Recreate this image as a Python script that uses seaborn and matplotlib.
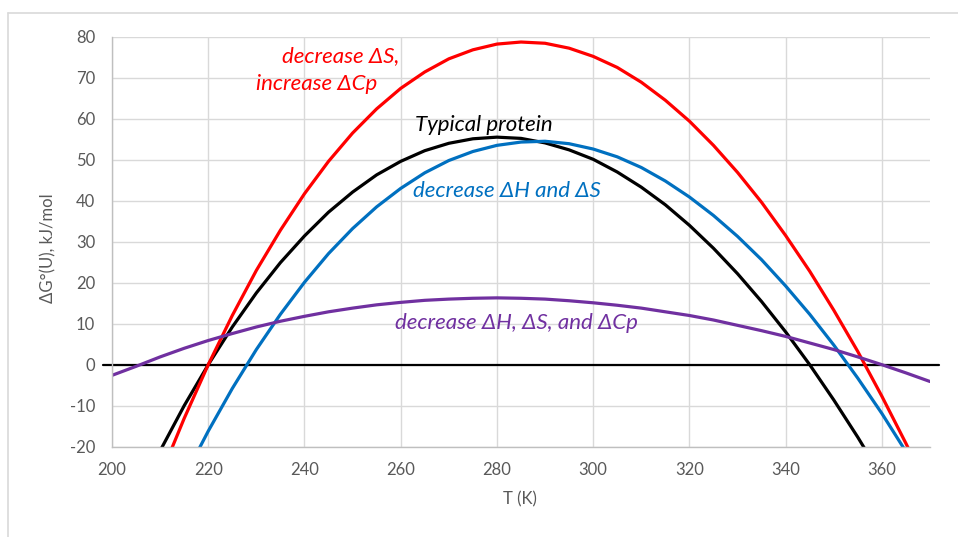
import matplotlib
matplotlib.use("Agg")
import matplotlib.pyplot as plt
from matplotlib.lines import Line2D
import seaborn as sns
import pandas as pd

# ---- data ----
temps = [200, 205, 210, 215, 220, 225, 230, 235, 240, 245, 250, 255, 260, 265,
         270, 275, 280, 285, 290, 295, 300, 305, 310, 315, 320, 325, 330, 335,
         340, 345, 350, 355, 360, 365, 370]

typical = [None, -33.0, -21.0, -10.0, 0.0, 9.2, 17.5, 24.9, 31.4, 37.2, 42.1, 46.3,
           49.6, 52.2, 54.0, 55.1, 55.5, 55.2, 54.1, 52.4, 50.1, 47.0, 43.3, 39.0,
           34.0, 28.4, 22.2, 15.4, 8.0, 0.0, -8.6, -17.7, -27.4, None, None]

dec_S_inc_Cp = [None, -42.7, -27.3, -13.1, 0.0, 12.0, 23.0, 32.8, 41.7, 49.6, 56.5,
                62.4, 67.4, 71.4, 74.6, 76.8, 78.2, 78.7, 78.4, 77.2, 75.2, 72.5,
                68.9, 64.5, 59.4, 53.5, 46.9, 39.6, 31.5, 22.8, 13.3, 3.2, -7.7,
                -19.2, -31.3]

dec_H_S = [None, None, None, -27.5, -16.2, -5.8, 3.7, 12.3, 20.1, 27.1, 33.2, 38.5,
           43.0, 46.8, 49.8, 52.0, 53.5, 54.3, 54.5, 53.9, 52.6, 50.7, 48.1, 44.8,
           40.9, 36.4, 31.3, 25.6, 19.2, 12.3, 4.8, -3.3, -11.9, -21.2, -30.9]

dec_H_S_Cp = [-2.6, -0.4, 1.9, 4.0, 5.9, 7.6, 9.2, 10.6, 11.8, 12.9, 13.8, 14.6,
              15.2, 15.7, 16.0, 16.2, 16.3, 16.2, 16.0, 15.6, 15.1, 14.5, 13.8,
              12.9, 12.0, 10.9, 9.6, 8.3, 6.9, 5.3, 3.7, 1.9, 0.0, -2.0, -4.1]

series_names = ["Typical protein", "decrease \u0394S, increase \u0394Cp",
                "decrease \u0394H and \u0394S", "decrease \u0394H, \u0394S, and \u0394Cp"]
series_values = [typical, dec_S_inc_Cp, dec_H_S, dec_H_S_Cp]
series_colors = ["#000000", "#FF0000", "#0070C0", "#7030A0"]

x_ticks = [200, 220, 240, 260, 280, 300, 320, 340, 360]
y_ticks = [-20, -10, 0, 10, 20, 30, 40, 50, 60, 70, 80]

rows = []
for name, vals in zip(series_names, series_values):
    for t, v in zip(temps, vals):
        if v is not None:
            rows.append({"T": t, "dG": v, "series": name})
df = pd.DataFrame(rows)

# ---- style ----
sns.set_theme(style="white")
plt.rcParams["font.family"] = ["Lato", "DejaVu Sans"]
plt.rcParams["axes.unicode_minus"] = False

fig = plt.figure(figsize=(9.58, 5.37), dpi=100)
ax = fig.add_axes([112 / 958, 1 - 446.7 / 537, (930 - 112) / 958, (446.7 - 36.7) / 537])

grid_c = "#D9D9D9"
ax.set_xlim(200, 370)
ax.set_ylim(-20, 80)
ax.set_xticks(x_ticks)
ax.set_yticks(y_ticks)
ax.grid(True, color=grid_c, linewidth=1.0)
ax.set_axisbelow(True)
for s in ["top", "right"]:
    ax.spines[s].set_visible(False)
for s in ["left", "bottom"]:
    ax.spines[s].set_color("#BFBFBF")
    ax.spines[s].set_linewidth(1.0)

sns.lineplot(data=df, x="T", y="dG", hue="series", hue_order=series_names,
             palette=series_colors, linewidth=2.3, legend=False, ax=ax, sort=True)

# zero line (horizontal axis crossing)
ax.axhline(0, xmin=-0.011, xmax=1.011, color="black", linewidth=1.6,
           clip_on=False, zorder=1.5)

ax.tick_params(axis="both", length=0, labelsize=12, labelcolor="#595959")
ax.tick_params(axis="y", pad=12)
ax.tick_params(axis="x", pad=11)

ax.set_xlabel("T (K)", fontsize=12, color="#595959")
ax.set_ylabel("\u0394G\u00b0(U), kJ/mol", fontsize=12, color="#595959")
ax.xaxis.set_label_coords(0.499, -0.11)
ax.yaxis.set_label_coords(-0.068, 0.483)

# annotations
fs = 16
ax.text(259.8, 75.3, "decrease \u0394S,", color="#FF0000", style="italic",
        fontsize=fs, ha="right", va="center")
ax.text(255.1, 68.5, "increase \u0394Cp", color="#FF0000", style="italic",
        fontsize=fs, ha="right", va="center")
ax.text(263.0, 58.5, "Typical protein", color="#000000", style="italic",
        fontsize=fs, ha="left", va="center")
ax.text(262.5, 42.4, "decrease \u0394H and \u0394S", color="#0070C0", style="italic",
        fontsize=fs, ha="left", va="center")
ax.text(258.8, 10.2, "decrease \u0394H, \u0394S, and \u0394Cp", color="#7030A0",
        style="italic", fontsize=fs, ha="left", va="center")

# outer chart border (only top and left visible)
fig.add_artist(Line2D([8 / 958, 1.0], [1 - 13 / 537, 1 - 13 / 537],
                      transform=fig.transFigure, color=grid_c, linewidth=1.2))
fig.add_artist(Line2D([8 / 958, 8 / 958], [0.0, 1 - 13 / 537],
                      transform=fig.transFigure, color=grid_c, linewidth=1.2))

fig.savefig("out.png", dpi=100)
